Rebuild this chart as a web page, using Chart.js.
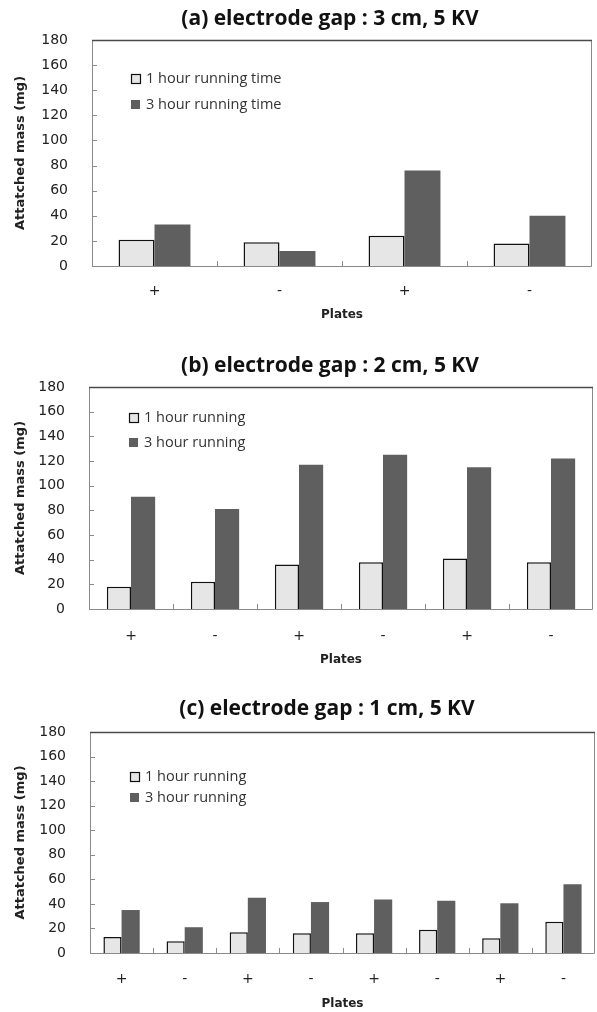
<!DOCTYPE html>
<html>
<head>
<meta charset="utf-8">
<script src="https://cdn.jsdelivr.net/npm/chart.js@4.4.1/dist/chart.umd.min.js"></script>
<style>
body { margin: 0; background: #fff; width: 597px; height: 1012px; position: relative; overflow: hidden; }
.panel { position: absolute; left: 0; }
.title { position: absolute; left: 0; width: 660px; text-align: center; font-family: "Open Sans", sans-serif; font-weight: bold; font-size: 21px; line-height: 26px; color: #111; }
</style>
</head>
<body>
<canvas id="chartA" class="panel" style="top:0px" width="597" height="330"></canvas>
<canvas id="chartB" class="panel" style="top:340px" width="597" height="330"></canvas>
<canvas id="chartC" class="panel" style="top:680px" width="597" height="332"></canvas>
<div class="title" style="top:4px">(a) electrode gap : 3 cm, 5 KV</div>
<div class="title" style="top:351px">(b) electrode gap : 2 cm, 5 KV</div>
<div class="title" style="top:694px;width:654px">(c) electrode gap : 1 cm, 5 KV</div>
<script>
//data
const platesA = ['+', '-', '+', '-'];
const oneHourA = [21, 19, 24, 18];
const threeHourA = [33, 12, 76, 40];

const platesB = ['+', '-', '+', '-', '+', '-'];
const oneHourB = [18, 22, 36, 38, 41, 38];
const threeHourB = [91, 81, 117, 125, 115, 122];

const platesC = ['+', '-', '+', '-', '+', '-', '+', '-'];
const oneHourC = [13, 9.5, 17, 16, 16, 19, 12, 25.5];
const threeHourC = [35, 21, 45, 41.5, 43.5, 42.5, 40.5, 56];

const yTicks = [0, 20, 40, 60, 80, 100, 120, 140, 160, 180];

const lightGray = '#e6e6e6';
const darkGray = '#5f5f5f';

// frame round the plot + the small inward ticks
const framePlugin = {
    id: 'frame',
    afterDatasetsDraw(chart) {
        const {ctx, chartArea: a, scales} = chart;
        ctx.save();
        ctx.lineWidth = 1;
        ctx.strokeStyle = '#8a8a8a';
        const y = scales.y;
        for (const t of y.ticks) {
            const py = Math.round(y.getPixelForValue(t.value)) + 0.5;
            ctx.beginPath(); ctx.moveTo(a.left, py); ctx.lineTo(a.left + 5, py); ctx.stroke();
        }
        const x = scales.x;
        for (let i = 1; i < x.ticks.length; i++) {
            const px = Math.round((x.getPixelForTick(i - 1) + x.getPixelForTick(i)) / 2) + 0.5;
            ctx.beginPath(); ctx.moveTo(px, a.bottom); ctx.lineTo(px, a.bottom - 5); ctx.stroke();
        }
        // left, bottom, right
        ctx.beginPath();
        ctx.moveTo(Math.round(a.left) + 0.5, a.top);
        ctx.lineTo(Math.round(a.left) + 0.5, Math.round(a.bottom) + 0.5);
        ctx.lineTo(Math.round(a.right) - 0.5, Math.round(a.bottom) + 0.5);
        ctx.lineTo(Math.round(a.right) - 0.5, a.top);
        ctx.stroke();
        // top is darker
        ctx.strokeStyle = '#4a4a4a';
        ctx.lineWidth = 1.5;
        ctx.beginPath();
        ctx.moveTo(a.left, Math.round(a.top) + 0.5);
        ctx.lineTo(a.right, Math.round(a.top) + 0.5);
        ctx.stroke();
        ctx.restore();
    }
};

// legend sitting inside the plot, top left
const boxLegend = {
    id: 'boxLegend',
    afterDraw(chart, args, opts) {
        const {ctx, chartArea: a} = chart;
        ctx.save();
        chart.data.datasets.forEach((ds, i) => {
            const bx = Math.round(a.left + opts.x), by = Math.round(a.top + opts.y + i * opts.gap);
            ctx.fillStyle = ds.backgroundColor;
            ctx.fillRect(bx, by, 9, 9);
            if (ds.borderWidth) {
                ctx.strokeStyle = '#111';
                ctx.lineWidth = 1.2;
                ctx.strokeRect(bx + 0.5, by + 0.5, 9, 9);
            }
            ctx.fillStyle = '#333';
            ctx.font = '14.5px "Open Sans"';
            ctx.textBaseline = 'middle';
            ctx.fillText(ds.label, bx + 15, by + 5);
        });
        ctx.restore();
    }
};

const makeChart = (id, plates, oneHour, threeHour, labels, lay) => {
    new Chart(document.getElementById(id), {
        type: 'bar',
        data: {
            labels: plates,
            datasets: [
                { label: labels[0], data: oneHour, backgroundColor: lightGray, borderColor: '#111', borderWidth: 1.5,
                  categoryPercentage: 0.575, barPercentage: 1 },
                { label: labels[1], data: threeHour, backgroundColor: darkGray, borderWidth: 0,
                  categoryPercentage: 0.575, barPercentage: 1 }
            ]
        },
        options: {
            responsive: false,
            animation: false,
            layout: { padding: { top: lay.top, right: lay.right, left: 0, bottom: 0 } },
            plugins: {
                legend: { display: false },
                tooltip: { enabled: false },
                boxLegend: lay.legend
            },
            scales: {
                x: {
                    grid: { display: false },
                    border: { display: false },
                    ticks: { color: '#222', font: { family: 'DejaVu Sans', size: 14 }, padding: lay.tickPad },
                    title: { display: true, text: 'Plates', color: '#222',
                             font: { family: 'DejaVu Sans', size: 12, weight: 'bold' },
                             padding: { top: lay.titlePad, bottom: lay.titlePad } },
                    afterFit: (s) => { s.height = lay.xh; }
                },
                y: {
                    min: 0, max: 180,
                    afterBuildTicks: (s) => { s.ticks = yTicks.map(v => ({ value: v })); },
                    grid: { display: false },
                    border: { display: false },
                    ticks: { color: '#222', font: { family: 'DejaVu Sans', size: 14 }, padding: 16 },
                    title: { display: true, text: 'Attatched mass (mg)', color: '#222',
                             font: { family: 'DejaVu Sans', size: 13, weight: 'bold' },
                             padding: { top: 13, bottom: 13 } },
                    afterFit: (s) => { s.width = lay.yw; }
                }
            }
        },
        plugins: [framePlugin, boxLegend]
    });
};

makeChart('chartA', platesA, oneHourA, threeHourA, ['1 hour running time', '3 hour running time'],
    { top: 40, right: 5, yw: 92, xh: 64, tickPad: 9, titlePad: 8, legend: { x: 39, y: 34, gap: 26 } });
makeChart('chartB', platesB, oneHourB, threeHourB, ['1 hour running', '3 hour running'],
    { top: 47, right: 4, yw: 89, xh: 61, tickPad: 11, titlePad: 3, legend: { x: 40, y: 26, gap: 25 } });
makeChart('chartC', platesC, oneHourC, threeHourC, ['1 hour running', '3 hour running'],
    { top: 52, right: 2, yw: 90, xh: 59, tickPad: 10, titlePad: 1, legend: { x: 40, y: 40, gap: 21 } });
</script>
</body>
</html>
